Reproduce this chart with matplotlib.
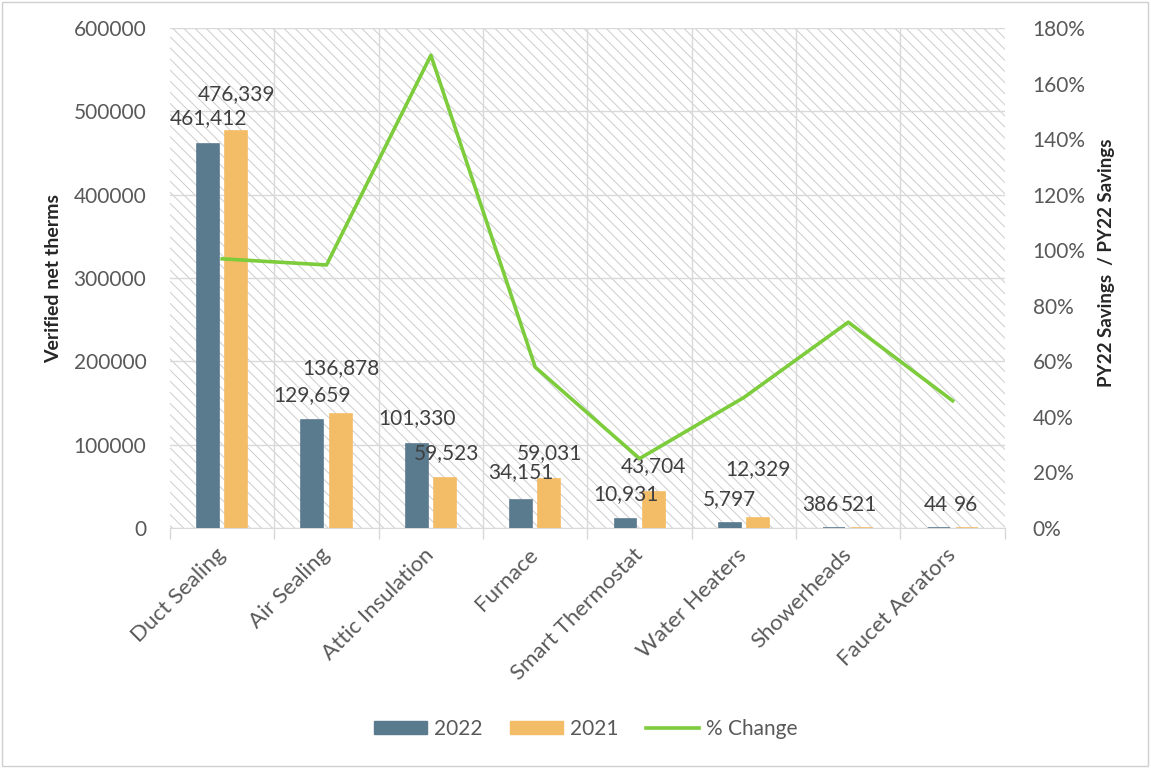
import numpy as np
import matplotlib.pyplot as plt
from matplotlib.patches import Rectangle, Patch
from matplotlib.lines import Line2D

plt.rcParams['font.family'] = ['Lato', 'DejaVu Sans']
plt.rcParams['hatch.linewidth'] = 0.7

measures = ['Duct Sealing', 'Air Sealing', 'Attic Insulation', 'Furnace',
            'Smart Thermostat', 'Water Heaters', 'Showerheads', 'Faucet Aerators']
therms_2022 = [461412, 129659, 101330, 34151, 10931, 5797, 386, 44]
therms_2021 = [476339, 136878, 59523, 59031, 43704, 12329, 521, 96]
pct_change = [0.969, 0.947, 1.702, 0.579, 0.250, 0.470, 0.741, 0.458]

# label placement (pixels above bar top, horizontal nudge)
lift_2022 = [25, 25, 25, 27, 25, 24, 23, 23]
lift_2021 = [37, 46, 25, 26, 25, 49, 23, 23]
nudge_2022 = [0, 0, 0, 0, 0, 0, -14, -3]
nudge_2021 = [0, 0, 2, 0, 0, 0, -3, -1]

c22 = '#5a7a8e'
c21 = '#f3bc66'
cline = '#7ccc3c'
grey = '#595959'
gridc = '#d9d9d9'
pt = 0.72  # points per pixel at 100 dpi

fig = plt.figure(figsize=(11.51, 7.68), dpi=100)
ax = fig.add_axes([0.1477, 0.3125, 0.7253, 0.651])
ax2 = ax.twinx()

x = np.arange(len(measures))
w = 0.21
off = 0.135

# hatched plot area
ax.add_patch(Rectangle((0, 0), 1, 1, transform=ax.transAxes, facecolor='white',
                       edgecolor='#cdcdcd', hatch='\\\\\\', linewidth=0, zorder=0))

# thin edge keeps the tiny bars visible
ax.bar(x - off, therms_2022, w, color=c22, edgecolor=c22, linewidth=1.2, zorder=3)
ax.bar(x + off, therms_2021, w, color=c21, edgecolor=c21, linewidth=1.2, zorder=3)

for xi, v, dy, dx in zip(x - off, therms_2022, lift_2022, nudge_2022):
    ax.annotate(f'{v:,}', (xi, v), xytext=(dx * pt, dy * pt), textcoords='offset points',
                ha='center', va='center', fontsize=15, color='#404040', zorder=5)
for xi, v, dy, dx in zip(x + off, therms_2021, lift_2021, nudge_2021):
    ax.annotate(f'{v:,}', (xi, v), xytext=(dx * pt, dy * pt), textcoords='offset points',
                ha='center', va='center', fontsize=15, color='#404040', zorder=5)

ax.set_xlim(-0.5, len(measures) - 0.5)
ax.set_ylim(0, 600000)
ax.set_yticks(np.arange(0, 600001, 100000))
ax.set_yticklabels([str(v) for v in range(0, 600001, 100000)])
ax.grid(axis='y', color=gridc, linewidth=1, zorder=1)
ax.set_axisbelow(True)
for xb in np.arange(0.5, len(measures) - 0.5, 1):
    ax.axvline(xb, color=gridc, linewidth=1, zorder=1)

ax.set_xticks(np.arange(-0.5, len(measures), 1))
ax.set_xticklabels([])
ax.set_xticks(x, minor=True)
ax.set_xticklabels(measures, minor=True, rotation=45, ha='right', va='center',
                   rotation_mode='anchor', fontsize=16, color=grey)
ax.tick_params(axis='x', which='major', length=8, color=gridc, width=1)
ax.tick_params(axis='x', which='minor', length=0, pad=17)
ax.tick_params(axis='y', length=0, labelsize=15, labelcolor=grey, pad=17)

for s in ['top', 'left', 'right']:
    ax.spines[s].set_visible(False)
    ax2.spines[s].set_visible(False)
ax.spines['bottom'].set_color(gridc)
ax2.spines['bottom'].set_visible(False)

ax.set_ylabel('Verified net therms', fontsize=14, fontweight='bold',
              color='#262626', labelpad=8)

ax2.plot(x, pct_change, color=cline, linewidth=2.6, zorder=4)
ax2.set_ylim(0, 1.8)
ax2.set_yticks(np.arange(0, 1.81, 0.2))
ax2.set_yticklabels([f'{int(round(v * 100))}%' for v in np.arange(0, 1.81, 0.2)])
ax2.tick_params(axis='y', length=0, labelsize=15, labelcolor=grey, pad=20)
ax2.set_ylabel('PY22 Savings  / PY22 Savings', fontsize=13.5, fontweight='bold',
               color='#262626', labelpad=12)
ax2.yaxis.set_label_coords(1.112, 0.53)

handles = [Patch(color=c22), Patch(color=c21), Line2D([], [], color=cline, linewidth=2.6)]
fig.legend(handles, ['2022', '2021', '% Change'], loc='center',
           bbox_to_anchor=(0.509, 0.051), ncol=3, frameon=False, fontsize=15,
           handlelength=2.5, handleheight=0.6, handletextpad=0.35,
           columnspacing=1.35, labelcolor=grey)

# chart border
fig.add_artist(Rectangle((0.002, 0.003), 0.995, 0.994, transform=fig.transFigure,
                         fill=False, edgecolor='#d0d0d0', linewidth=1))

fig.savefig('out.png', dpi=100)
